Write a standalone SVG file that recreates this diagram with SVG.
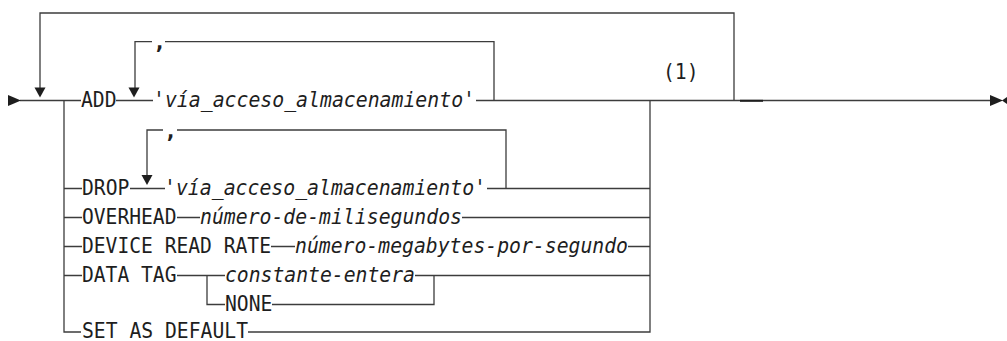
<svg xmlns="http://www.w3.org/2000/svg" width="1007" height="341" viewBox="0 0 1007 341">
<style>
.t{font-family:"DejaVu Sans Mono","Liberation Mono",monospace;font-size:21px;fill:#1e1e1e}
.i{font-style:italic}
.k{font-weight:bold;font-size:22px}
.c{fill:none;stroke:#3c3c3c;stroke-width:1.3}
.h{fill:#1e1e1e;stroke:none}
</style>
<rect width="1007" height="341" fill="#fff"/>
<g id="connectors">
<path class="c" d="M20,100.5H81M116,100.5H153M476,100.5H990"/>
<path class="c" d="M64,100.5V332H81M64,188.5H82M64,217.5H82M64,246.5H82M64,275.5H82"/>
<path class="c" d="M734,100.5V13H40V89"/>
<path class="c" d="M494,100.5V41.7H165M152,41.7H135V89"/>
<path class="c" d="M130,188.5H165M487,188.5H650M506,188.5V130H177M163,130H147V176"/>
<path class="c" d="M177,217.5H200M462,217.5H650"/>
<path class="c" d="M271,246.5H295M628,246.5H650"/>
<path class="c" d="M177,275.5H225M415,275.5H650M207,275.5V304.5H225M272,304.5H434V275.5"/>
<path class="c" d="M248,332H650V100.5"/>
<rect class="h" x="740" y="99.8" width="23" height="2"/>
<polygon class="h" points="8,95 8,106 21,100.5"/>
<polygon class="h" points="34.5,87.5 45.5,87.5 40,97.5"/>
<polygon class="h" points="128.5,87.5 139.5,87.5 134,97.5"/>
<polygon class="h" points="141.5,175 152.5,175 147,185"/>
<polygon class="h" points="990,95 990,106 1003,100.5"/>
<polygon class="h" points="1007,97 1007,104 1002,100.5"/>
</g>
<g id="add"><text class="t" x="81" y="106.5" textLength="35.6" lengthAdjust="spacingAndGlyphs">ADD</text></g>
<g id="add-comma"><text class="t k" x="159.5" y="49" text-anchor="middle">,</text></g>
<g id="add-path"><text class="t i" x="153" y="106.5" textLength="322" lengthAdjust="spacingAndGlyphs">'vía_acceso_almacenamiento'</text></g>
<g id="note"><text class="t" x="663" y="79" textLength="35.6" lengthAdjust="spacingAndGlyphs">(1)</text></g>
<g id="drop"><text class="t" x="82" y="194.5" textLength="47.4" lengthAdjust="spacingAndGlyphs">DROP</text></g>
<g id="drop-comma"><text class="t k" x="170.5" y="137.5" text-anchor="middle">,</text></g>
<g id="drop-path"><text class="t i" x="164" y="194.5" textLength="322" lengthAdjust="spacingAndGlyphs">'vía_acceso_almacenamiento'</text></g>
<g id="overhead"><text class="t" x="82" y="223.5" textLength="94.5" lengthAdjust="spacingAndGlyphs">OVERHEAD</text></g>
<g id="overhead-val"><text class="t i" x="200" y="223.5" textLength="262" lengthAdjust="spacingAndGlyphs">número-de-milisegundos</text></g>
<g id="device"><text class="t" x="82" y="252.5" textLength="189" lengthAdjust="spacingAndGlyphs">DEVICE READ RATE</text></g>
<g id="device-val"><text class="t i" x="295" y="252.5" textLength="333" lengthAdjust="spacingAndGlyphs">número-megabytes-por-segundo</text></g>
<g id="datatag"><text class="t" x="82" y="281.5" textLength="94.5" lengthAdjust="spacingAndGlyphs">DATA TAG</text></g>
<g id="datatag-const"><text class="t i" x="225" y="281.5" textLength="190" lengthAdjust="spacingAndGlyphs">constante-entera</text></g>
<g id="datatag-none"><text class="t" x="225" y="310.5" textLength="47.4" lengthAdjust="spacingAndGlyphs">NONE</text></g>
<g id="setdefault"><text class="t" x="82" y="338" textLength="166" lengthAdjust="spacingAndGlyphs">SET AS DEFAULT</text></g>
</svg>
